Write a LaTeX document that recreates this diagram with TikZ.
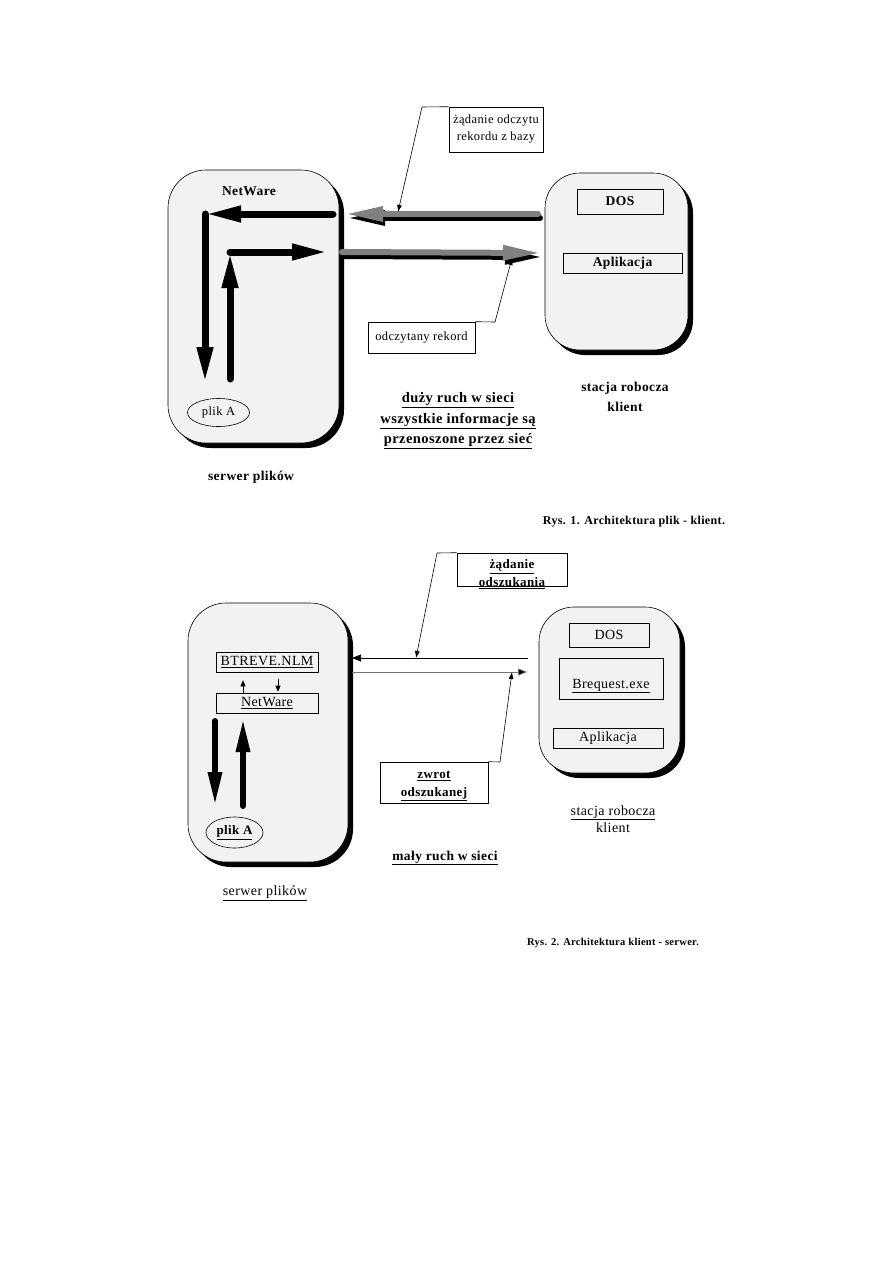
\documentclass[tikz,border=0pt]{standalone}
\usepackage{fontspec}
\setmainfont{Liberation Serif}[LetterSpace=3]
\usetikzlibrary{arrows.meta,shapes.geometric,shadows,calc}
\begin{document}
\begin{tikzpicture}[x=1pt,y=-1pt,
  srv/.style={draw, line width=0.6pt, fill=black!5, inner sep=0pt,
    drop shadow={shadow xshift=5pt, shadow yshift=-5pt, fill=black, opacity=1}},
  ibox/.style={draw, line width=0.6pt, inner sep=0pt},
  cbox/.style={draw, line width=0.6pt, fill=white, inner sep=0pt},
  ell/.style={draw, ellipse, line width=0.6pt, inner sep=0pt},
  thk/.style={line width=7pt, line cap=round, -{Triangle[length=36pt,width=15pt]}},
  thkb/.style={line width=6pt, line cap=round, -{Triangle[length=34pt,width=13pt]}},
  garr/.style={line width=6pt, line cap=round, draw=black!50, -{Triangle[length=38pt,width=14pt]}},
  gsh/.style={line width=6pt, line cap=round, draw=black, -{Triangle[length=38pt,width=14pt]}},
  lead/.style={line width=0.6pt, -{Latex[length=7pt,width=5pt]}},
  sm/.style={line width=0.6pt, -{Triangle[length=6pt,width=5pt]}},
  f13/.style={font=\fontsize{14}{17}\selectfont},
  f12/.style={font=\fontsize{12.5}{17}\selectfont},
  b13/.style={font=\bfseries\fontsize{13.5}{20}\selectfont},
  b14/.style={font=\bfseries\fontsize{14.5}{20.5}\selectfont},
  b12/.style={font=\bfseries\fontsize{13}{17.5}\selectfont},
]
\useasboundingbox[fill=white] (0,0) rectangle (893,1263);

% ================= Figure 1 =================
\node[srv, minimum width=171, minimum height=273, rounded corners=38] (srv1) at (253.5,306.5) {};
\node[b13] (nw1) at (249,191) {NetWare};
\node[ell, f12, minimum width=62, minimum height=28] (plik1) at (218.5,412.5) {plik A};

\coordinate (p1) at (333,214);
\coordinate (p2) at (205,214);
\coordinate (p3) at (205,383);
\coordinate (q1) at (230,379);
\coordinate (q2) at (230,252);
\coordinate (q3) at (328,252);
\draw[thk] (p1) -- (p2);
\draw[thk] (p2) -- (p3);
\draw[thk] (q1) -- (q2);
\draw[thk] (q2) -- (q3);

\node[srv, minimum width=143, minimum height=177, rounded corners=35] (cli1) at (616.5,261.5) {};
\node[ibox, b13, minimum width=86, minimum height=25] (dos1) at (620,201.5) {DOS};
\node[ibox, b13, minimum width=119, minimum height=20] (apl1) at (622.5,263) {Aplikacja};

% gray arrows with black shadow
\coordinate (g1s) at (538,214);
\coordinate (g1e) at (345,214);
\coordinate (g2s) at (342,252);
\coordinate (g2e) at (541,253);
\draw[gsh] ([shift={(2,4)}]g1s) -- ([shift={(2,4)}]g1e);
\draw[garr] (g1s) -- (g1e);
\draw[gsh] ([shift={(2,4)}]g2s) -- ([shift={(2,4)}]g2e);
\draw[garr] (g2s) -- (g2e);

% callouts
\node[cbox, f12, align=center, minimum width=94, minimum height=45] (c1) at (496,129.5) {żądanie odczytu\\rekordu z bazy};
\coordinate (c1k) at (422,107);
\coordinate (c1t) at (398,212);
\draw[line width=0.6pt] (c1.north west) -- (c1k);
\draw[lead] (c1k) -- (c1t);

\node[cbox, f12, minimum width=107, minimum height=31] (c2) at (421.5,337.5) {odczytany rekord};
\coordinate (c2k) at (495,322);
\coordinate (c2t) at (512,258);
\draw[line width=0.6pt] (c2.north east) -- (c2k);
\draw[lead] (c2k) -- (c2t);

\node[b14, align=center] (info1) at (458,421) {\underline{duży ruch w sieci}\\\underline{wszystkie informacje są}\\\underline{przenoszone przez sieć}};
\node[b13, align=center] (st1) at (625,397) {stacja robocza\\klient};
\node[b13] (sp1) at (251,477) {serwer plików};
\node[font=\bfseries\fontsize{12}{14}\selectfont] (cap1) at (634,522) {Rys. 1. Architektura plik - klient.};

% ================= Figure 2 =================
\node[srv, minimum width=160, minimum height=259, rounded corners=38] (srv2) at (268,732.5) {};
\node[ibox, f13, minimum width=102, minimum height=20] (btr) at (267,662) {\underline{BTREVE.NLM}};
\node[ibox, f13, minimum width=102, minimum height=20] (nw2) at (267,703) {\underline{NetWare}};
\coordinate (u1) at ($(nw2.north)+(-24,0)$);
\coordinate (u2) at ($(btr.south)+(-24,8)$);
\coordinate (d1) at ($(btr.south)+(11,7)$);
\coordinate (d2) at ($(nw2.north)+(11,-1)$);
\draw[sm] (u1) -- (u2);
\draw[sm] (d1) -- (d2);

\coordinate (v1) at (215,721);
\coordinate (v2) at (215,806);
\coordinate (w1) at (243,806);
\coordinate (w2) at (243,718);
\draw[thkb] (v1) -- (v2);
\draw[thkb] (w1) -- (w2);

\node[ell, b12, minimum width=57, minimum height=31] (plik2) at (234.5,832.5) {\underline{plik A}};

\node[srv, minimum width=141, minimum height=166, rounded corners=35] (cli2) at (609.5,690) {};
\node[ibox, f13, minimum width=80, minimum height=24] (dos2) at (609,635) {DOS};
\node[ibox, minimum width=104, minimum height=41] (breq) at (611,678.5) {};
\node[f13] (breqt) at (611,686) {\underline{Brequest.exe}};
\node[ibox, f13, minimum width=110, minimum height=20] (apl2) at (608,738) {Aplikacja};

% thin connectors
\coordinate (l1s) at (528,658);
\coordinate (l1e) at (352,658);
\coordinate (l2s) at (352,672);
\coordinate (l2e) at (527,672);
\draw[line width=0.7pt, -{Triangle[length=9pt,width=7pt]}] (l1s) -- (l1e);
\draw[line width=0.7pt, draw=black!55, -{Triangle[length=9pt,width=7pt,fill=black]}] (l2s) -- (l2e);

% callouts
\node[cbox, minimum width=110, minimum height=33] (c3) at (512,569.5) {};
\node[b12, align=center] (c3txt) at (512,574) {\underline{żądanie}\\\underline{odszukania}};
\coordinate (c3k) at (437,553);
\coordinate (c3t) at (416,658);
\draw[line width=0.6pt] (c3.north west) -- (c3k);
\draw[lead] (c3k) -- (c3t);

\node[cbox, minimum width=108, minimum height=41] (c4) at (434,782.5) {};
\node[b12, align=center] (c4txt) at (434,786) {\underline{zwrot}\\\underline{odszukanej}};
\coordinate (c4k) at (500,762);
\coordinate (c4t) at (512,672);
\draw[line width=0.6pt] (c4.north east) -- (c4k);
\draw[lead] (c4k) -- (c4t);

\node[align=center, font=\fontsize{14}{17}\selectfont] (st2) at (613,819) {\underline{stacja robocza}\\klient};
\node[b13] (maly) at (445,858) {\underline{mały ruch w sieci}};
\node[f13] (sp2) at (265,893) {\underline{serwer plików}};
\node[font=\bfseries\fontsize{10.5}{12}\selectfont] (cap2) at (613,943) {Rys. 2. Architektura klient - serwer.};
\end{tikzpicture}
\end{document}
